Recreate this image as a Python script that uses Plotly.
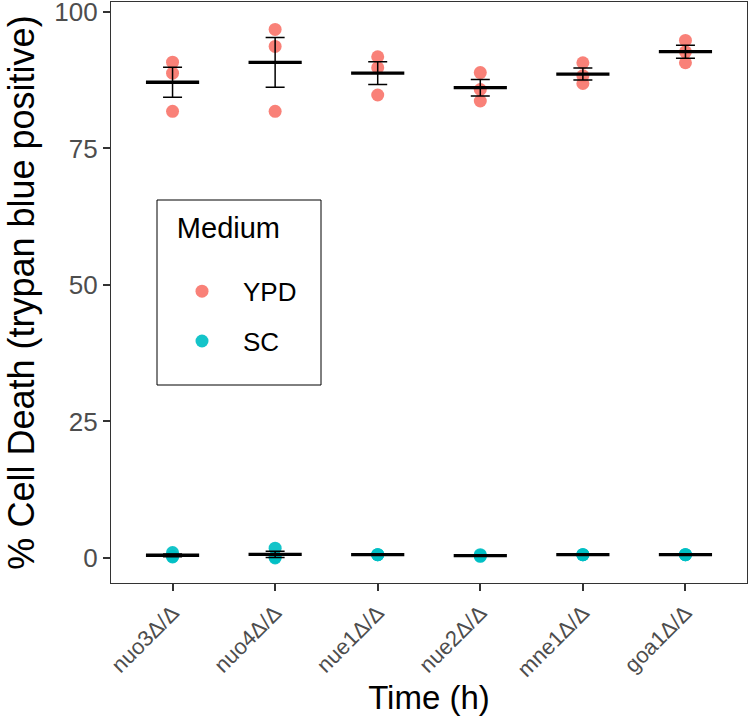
import numpy as np
import plotly.graph_objects as go

strains = ["nuo3Δ/Δ", "nuo4Δ/Δ", "nue1Δ/Δ", "nue2Δ/Δ", "mne1Δ/Δ", "goa1Δ/Δ"]
ypd = [
    [90.8, 88.8, 81.8],
    [96.8, 93.7, 81.8],
    [91.8, 89.8, 84.8],
    [88.9, 85.8, 83.7],
    [90.7, 88.3, 86.9],
    [94.8, 92.7, 90.7],
]
sc = [
    [1.0, 0.3, 0.2],
    [1.8, 0.0, 0.2],
    [0.6, 0.6, 0.6],
    [0.6, 0.4, 0.3],
    [0.6, 0.6, 0.6],
    [0.6, 0.6, 0.6],
]
media = ["YPD", "SC"]
colors = {"YPD": "#F8766D", "SC": "#00BFC4"}

fig = go.Figure()
data = {"YPD": ypd, "SC": sc}

for m in media:
    xs, ys = [], []
    for s, vals in zip(strains, data[m]):
        xs += [s] * len(vals)
        ys += vals
    fig.add_trace(go.Scatter(
        x=xs, y=ys, mode="markers", name=m, legendgroup=m,
        marker=dict(color=colors[m], size=13, opacity=0.92, line=dict(width=0)),
    ))

for m in media:
    means = [float(np.mean(v)) for v in data[m]]
    ses = [float(np.std(v, ddof=1) / np.sqrt(len(v))) for v in data[m]]
    fig.add_trace(go.Scatter(
        x=strains, y=means, mode="markers", showlegend=False,
        marker=dict(symbol="line-ew", size=38, color="black",
                    line=dict(width=3.3, color="black")),
        error_y=dict(type="data", array=ses, visible=True, color="black",
                     thickness=1.5, width=9.5),
    ))

# legend frame (paper coordinates, plot area spans x 111..747, y 2..583 px)
def px_x(p):
    return (p - 111) / 636.0

def px_y(p):
    return (583 - p) / 581.0

fig.add_shape(type="rect", xref="paper", yref="paper",
              x0=px_x(157), x1=px_x(321), y0=px_y(385), y1=px_y(200),
              line=dict(color="black", width=1), fillcolor="white", layer="above")

fig.update_layout(
    width=750, height=725,
    margin=dict(l=111, r=3, t=2, b=142, autoexpand=False),
    plot_bgcolor="white", paper_bgcolor="white",
    font=dict(family="Liberation Sans, Arial, sans-serif", color="black"),
    showlegend=True,
    legend=dict(
        title=dict(text="<span style='font-size:29px'>\u00a0\u2009Medium</span><br>\u00a0",
                   font=dict(size=23)),
        font=dict(size=26),
        x=px_x(161), y=px_y(208), xanchor="left", yanchor="top",
        borderwidth=0, bgcolor="rgba(0,0,0,0)",
        tracegroupgap=13, itemwidth=72,
    ),
    xaxis=dict(
        title=dict(text="Time (h)", font=dict(size=33), standoff=5),
        categoryorder="array", categoryarray=strains,
        range=[-0.6, 5.6], automargin=False,
        tickangle=-45, tickfont=dict(size=22, color="#4D4D4D"),
        ticks="outside", ticklen=7, tickcolor="#333333", tickwidth=2,
        showline=True, linecolor="#333333", linewidth=1.2, mirror=True,
        showgrid=False, zeroline=False,
    ),
    yaxis=dict(
        title=dict(text="% Cell Death (trypan blue positive)", font=dict(size=36), standoff=8),
        range=[-4.58, 101.83], automargin=False,
        tickvals=[0, 25, 50, 75, 100],
        tickfont=dict(size=26, color="#4D4D4D"),
        ticklabeloverflow="allow",
        ticks="outside", ticklen=7, tickcolor="#333333", tickwidth=2,
        showline=True, linecolor="#333333", linewidth=1.2, mirror=True,
        showgrid=False, zeroline=False,
    ),
)

fig.write_html("out.html")
